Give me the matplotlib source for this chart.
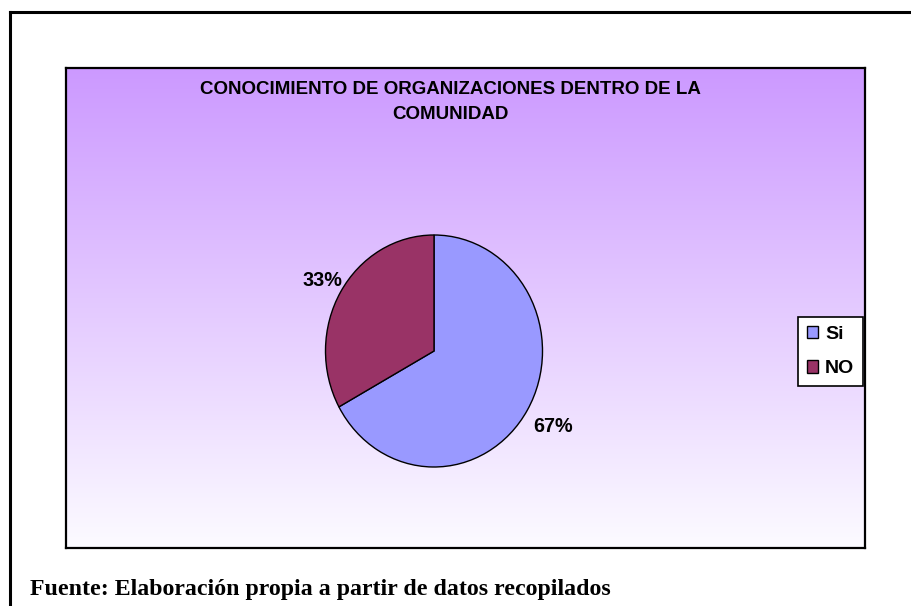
import matplotlib
matplotlib.use("Agg")

import numpy as np
import matplotlib.pyplot as plt
from matplotlib.lines import Line2D
from matplotlib.patches import Patch

# datos
categorias = ["Si", "NO"]
valores = [67, 33]
colores = ["#9999FF", "#993366"]
titulo = "CONOCIMIENTO DE ORGANIZACIONES DENTRO DE LA\nCOMUNIDAD"
fuente = "Fuente: Elaboración propia a partir de datos recopilados"

W, H = 911, 606
fig = plt.figure(figsize=(W / 100, H / 100), dpi=100)


def fx(px):
    return px / W


def fy(py):
    return 1 - py / H


# marco exterior (solo izquierda y arriba)
fig.add_artist(Line2D([fx(10), fx(10)], [fy(12), fy(606)], color="black", lw=2.2,
                      transform=fig.transFigure))
fig.add_artist(Line2D([fx(10), fx(911)], [fy(12), fy(12)], color="black", lw=2.2,
                      transform=fig.transFigure))

# area del grafico con degradado
bg = fig.add_axes([fx(66), fy(548), fx(865) - fx(66), fy(68) - fy(548)])
top = np.array([204, 153, 255]) / 255
bottom = np.array([252, 251, 255]) / 255
t = np.linspace(0, 1, 256)[:, None]
grad = top[None, :] * (1 - t) + bottom[None, :] * t
bg.imshow(grad[:, None, :], aspect="auto", extent=[0, 1, 0, 1], origin="upper")
bg.set_xticks([])
bg.set_yticks([])
for s in bg.spines.values():
    s.set_linewidth(1.6)
    s.set_color("black")

fig.text(fx(450), fy(102), titulo, ha="center", va="center", fontsize=13.5,
         fontweight="bold", family="Liberation Sans", linespacing=1.65)

# pastel
ax = fig.add_axes([fx(434 - 108.5), fy(351 + 116), fx(217), 232 / H])
wedges, _ = ax.pie(valores, colors=colores, startangle=90, counterclock=False,
                   wedgeprops=dict(edgecolor="black", linewidth=1.0))
ax.set_aspect("auto")
ax.set_xlim(-1, 1)
ax.set_ylim(-1, 1)
ax.axis("off")

dist = [1.28, 1.19]
for w, v, d in zip(wedges, valores, dist):
    ang = np.deg2rad((w.theta1 + w.theta2) / 2)
    ax.text(d * np.cos(ang), d * np.sin(ang), "%d%%" % v, ha="center", va="center",
            fontsize=14.2, fontweight="bold", family="Liberation Sans")

# leyenda
handles = [Patch(facecolor=c, edgecolor="black", linewidth=1.0) for c in colores]
leg = fig.legend(handles, categorias, loc="upper left",
                 bbox_to_anchor=(fx(798), fy(317)), borderaxespad=0,
                 prop=dict(family="Liberation Sans", weight="bold", size=14),
                 fancybox=False, framealpha=1, edgecolor="black",
                 handlelength=0.6, handleheight=0.6, handletextpad=0.35,
                 labelspacing=0.9, borderpad=0.45)
leg.get_frame().set_linewidth(1.2)

fig.text(fx(30), fy(589), fuente, ha="left", va="center", fontsize=17.2,
         fontweight="bold", family="Liberation Serif")

plt.savefig("out.png", dpi=100)
